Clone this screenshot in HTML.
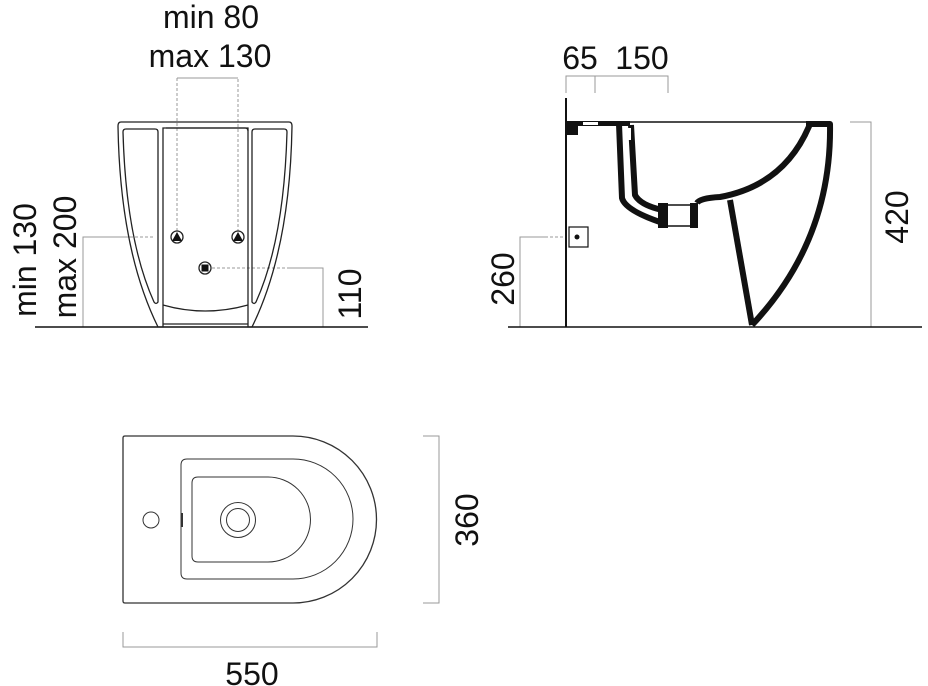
<!DOCTYPE html>
<html><head><style>
body{margin:0;background:#fff;}
svg{display:block;}
text{font-family:"Liberation Sans",sans-serif;font-size:32px;fill:#111;}
</style></head><body>
<svg width="928" height="686" viewBox="0 0 928 686" xmlns="http://www.w3.org/2000/svg">
<g fill="none" stroke="#999" stroke-width="1">
 <path d="M177 231V78H238V231" stroke-dasharray="3 2"/>
 <path d="M177 78H238"/>
 <path d="M83 327V237H130"/>
 <path d="M130 237H155" stroke-dasharray="3 2"/>
 <path d="M212 268H290" stroke-dasharray="3 2"/>
 <path d="M290 268H323V327"/>
 <path d="M566 93V76H668V93M595 76V93"/>
 <path d="M520 327V237H545"/>
 <path d="M545 237H566" stroke-dasharray="3 2"/>
 <path d="M850 122H871V327"/>
 <path d="M423 436H439V603H423"/>
 <path d="M123 632V647H377V632"/>
</g>
<path d="M35 327H368" stroke="#111" stroke-width="1.5"/>
<path d="M508 327H922" stroke="#111" stroke-width="1.5"/>

<g fill="none" stroke="#222" stroke-width="1.3">
 <path d="M121 122H289Q292 122 292 126Q290 250 252 327H248V128H163V327H158Q120 250 118 126Q118 122 121 122Z"/>
 <path d="M126 129H155Q158 129 158 132V302Q156 305 154 302Q126 240 123 132Q123 129 126 129Z"/>
 <path d="M284 129H255Q252 129 252 132V302Q254 305 256 302Q284 240 287 132Q287 129 284 129Z"/>
 <path d="M166 128H245Q248 128 248 131"/>
 <path d="M163 305Q205 317 248 305"/>
 <path d="M163 324H248"/>
 <circle cx="177" cy="237" r="6"/>
 <circle cx="238" cy="237" r="6"/>
 <circle cx="205" cy="268" r="6"/>
</g>
<polygon points="177,232 172,241 182,241" fill="#111"/>
<polygon points="238,232 233,241 243,241" fill="#111"/>
<rect x="201.5" y="264.5" width="7" height="7" fill="#111"/>

<g fill="none" stroke="#111">
 <path d="M566 98V327" stroke-width="2"/>
 <path d="M566 122H830" stroke-width="1.5"/>
 <rect x="569" y="227" width="19" height="20" stroke-width="1.2"/>
</g>
<circle cx="577" cy="237" r="2.5" fill="#111"/>
<rect x="566" y="121" width="12" height="14" fill="#111"/>
<rect x="566" y="121" width="64" height="5" fill="#111"/>
<rect x="583" y="122" width="15" height="3" fill="#fff"/>
<g fill="none" stroke="#111" stroke-width="6" stroke-linejoin="round">
 <path d="M619 124L622 198Q625 210 660 222"/>
 <path d="M631 125L635 195Q640 205 662 210"/>
 <path d="M697 203Q700 198 720 197Q785 185 810 124"/>
 <path d="M806 124H830Q832 240 752 325"/>
 <path d="M730 200L752 325"/>
</g>
<rect x="658" y="203" width="10" height="25" fill="#111"/>
<rect x="690" y="203" width="8" height="25" fill="#111"/>
<path d="M668 205H690M668 226H690" stroke="#111" stroke-width="1.5"/>
<rect x="627" y="128" width="4" height="12" fill="#fff"/>

<g fill="none" stroke="#333" stroke-width="1.3">
 <path d="M125 436H293A83.5 83.5 0 0 1 293 603H125Q123 603 123 601V438Q123 436 125 436Z"/>
 <path d="M187 459H293A60 60 0 0 1 293 579H187Q181 579 181 573V465Q181 459 187 459Z" stroke-width="1"/>
 <path d="M198 477H268A42.5 42.5 0 0 1 268 562H198Q192 562 192 556V483Q192 477 198 477Z" stroke-width="1"/>
 <circle cx="238" cy="520" r="17.5" stroke-width="1"/>
 <circle cx="238" cy="520" r="11.5" stroke-width="1"/>
 <circle cx="151" cy="520" r="8" stroke-width="1"/>
 <path d="M182 513V527" stroke-width="2"/>
</g>

<text x="211" y="28" text-anchor="middle">min 80</text>
<text x="210" y="67" text-anchor="middle">max 130</text>
<text transform="translate(36,260) rotate(-90)" text-anchor="middle">min 130</text>
<text transform="translate(76,257) rotate(-90)" text-anchor="middle">max 200</text>
<text transform="translate(361,294) rotate(-90)" text-anchor="middle">110</text>
<text x="580" y="69" text-anchor="middle">65</text>
<text x="642" y="69" text-anchor="middle">150</text>
<text transform="translate(514,279) rotate(-90)" text-anchor="middle">260</text>
<text transform="translate(908,217) rotate(-90)" text-anchor="middle">420</text>
<text transform="translate(478,520) rotate(-90)" text-anchor="middle">360</text>
<text x="252" y="685" text-anchor="middle">550</text>
</svg>
</body></html>
